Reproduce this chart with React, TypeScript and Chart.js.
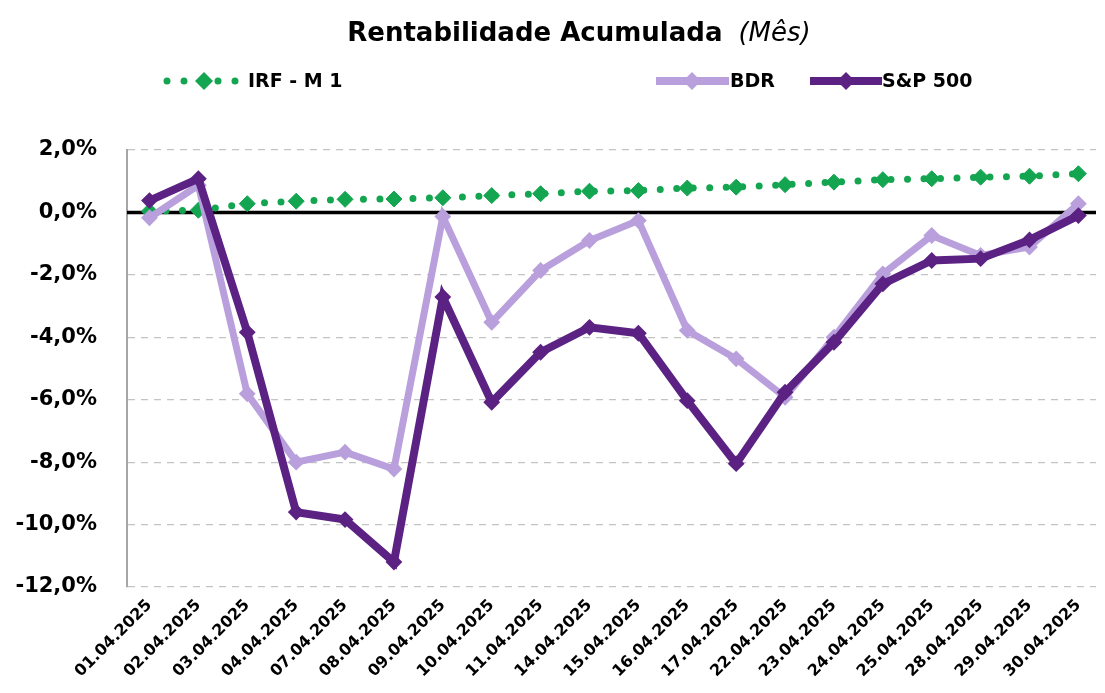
import React, { useEffect, useRef } from 'react';
import { Chart, registerables } from 'chart.js';

Chart.register(...registerables);

const titleMain = 'Rentabilidade Acumulada';
const titleSub = '(Mês)';

const dates = [
  '01.04.2025', '02.04.2025', '03.04.2025', '04.04.2025', '07.04.2025',
  '08.04.2025', '09.04.2025', '10.04.2025', '11.04.2025', '14.04.2025',
  '15.04.2025', '16.04.2025', '17.04.2025', '22.04.2025', '23.04.2025',
  '24.04.2025', '25.04.2025', '28.04.2025', '29.04.2025', '30.04.2025',
];

const seriesNames = ['IRF - M 1', 'BDR', 'S&P 500'];

const irfM1 = [0.04, 0.07, 0.28, 0.36, 0.42, 0.43, 0.47, 0.54, 0.6, 0.68, 0.7, 0.78, 0.81, 0.89, 0.97, 1.05, 1.08, 1.13, 1.16, 1.24];
const bdr = [-0.17, 0.87, -5.81, -8.0, -7.68, -8.22, -0.13, -3.52, -1.86, -0.9, -0.26, -3.78, -4.69, -5.92, -4.0, -1.97, -0.74, -1.38, -1.11, 0.28];
const sp500 = [0.38, 1.08, -3.84, -9.6, -9.84, -11.2, -2.71, -6.08, -4.48, -3.68, -3.87, -6.03, -8.05, -5.76, -4.16, -2.29, -1.54, -1.48, -0.88, -0.1];

const yMin = -12;
const yMax = 2;
const yStep = 2;

const FONT = '"DejaVu Sans", "Liberation Sans", sans-serif';
const GREEN = '#14A550';
const LIGHT = '#B9A0DC';
const DARK = '#5B2283';

function diamond(ctx: CanvasRenderingContext2D, cx: number, cy: number, r: number, color: string) {
  ctx.beginPath();
  ctx.moveTo(cx, cy - r);
  ctx.lineTo(cx + r, cy);
  ctx.lineTo(cx, cy + r);
  ctx.lineTo(cx - r, cy);
  ctx.closePath();
  ctx.fillStyle = color;
  ctx.fill();
}

const zeroLinePlugin = {
  id: 'zeroLine',
  beforeDatasetsDraw(chart: any) {
    const { ctx, chartArea, scales } = chart;
    const y = scales.y.getPixelForValue(0);
    ctx.save();
    ctx.strokeStyle = '#000';
    ctx.lineWidth = 3.5;
    ctx.beginPath();
    ctx.moveTo(chartArea.left, y);
    ctx.lineTo(chartArea.right, y);
    ctx.stroke();
    ctx.restore();
  },
};

const headerPlugin = {
  id: 'header',
  afterDraw(chart: any) {
    const ctx: CanvasRenderingContext2D = chart.ctx;
    ctx.save();
    ctx.textBaseline = 'alphabetic';
    ctx.textAlign = 'left';
    const bold = `bold 26px ${FONT}`;
    const ital = `italic 26px ${FONT}`;
    ctx.font = bold;
    const w1 = ctx.measureText(titleMain).width;
    ctx.font = ital;
    const w2 = ctx.measureText(titleSub).width;
    const gap = 16;
    const x0 = 579 - (w1 + gap + w2) / 2;
    ctx.fillStyle = '#000';
    ctx.font = bold;
    ctx.fillText(titleMain, x0, 41);
    ctx.font = ital;
    ctx.fillText(titleSub, x0 + w1 + gap, 41);

    const ly = 81;
    // IRF - M 1 sample
    ctx.strokeStyle = GREEN;
    ctx.lineWidth = 7;
    ctx.lineCap = 'round';
    ctx.setLineDash([0, 17]);
    ctx.beginPath();
    ctx.moveTo(167, ly);
    ctx.lineTo(240, ly);
    ctx.stroke();
    ctx.setLineDash([]);
    diamond(ctx, 204, ly, 9, GREEN);
    // BDR sample
    ctx.lineCap = 'butt';
    ctx.strokeStyle = LIGHT;
    ctx.lineWidth = 8;
    ctx.beginPath();
    ctx.moveTo(656, ly);
    ctx.lineTo(729, ly);
    ctx.stroke();
    diamond(ctx, 692, ly, 9, LIGHT);
    // S&P sample
    ctx.strokeStyle = DARK;
    ctx.beginPath();
    ctx.moveTo(810, ly);
    ctx.lineTo(882, ly);
    ctx.stroke();
    diamond(ctx, 846, ly, 9, DARK);

    ctx.fillStyle = '#000';
    ctx.font = `bold 19px ${FONT}`;
    ctx.textBaseline = 'middle';
    ctx.fillText(seriesNames[0], 248, ly + 1);
    ctx.fillText(seriesNames[1], 730, ly + 1);
    ctx.fillText(seriesNames[2], 882, ly + 1);
    ctx.restore();
  },
};

export default function App() {
  const ref = useRef<HTMLCanvasElement | null>(null);

  useEffect(() => {
    if (!ref.current) return;
    const toXY = (arr: number[]) => arr.map((v, i) => ({ x: i, y: v }));
    const chart = new Chart(ref.current, {
      type: 'line',
      data: {
        datasets: [
          {
            label: seriesNames[0],
            data: toXY(irfM1),
            borderColor: GREEN,
            backgroundColor: GREEN,
            borderWidth: 7,
            borderDash: [0, 16.5],
            borderCapStyle: 'round',
            pointStyle: 'rectRot',
            pointRadius: 8,
            pointBorderWidth: 1,
            pointBackgroundColor: GREEN,
            pointBorderColor: GREEN,
            order: 2,
          },
          {
            label: seriesNames[1],
            data: toXY(bdr),
            borderColor: LIGHT,
            backgroundColor: LIGHT,
            borderWidth: 7,
            pointStyle: 'rectRot',
            pointRadius: 7,
            pointBorderWidth: 2,
            pointBackgroundColor: LIGHT,
            pointBorderColor: LIGHT,
            order: 1,
          },
          {
            label: seriesNames[2],
            data: toXY(sp500),
            borderColor: DARK,
            backgroundColor: DARK,
            borderWidth: 8,
            pointStyle: 'rectRot',
            pointRadius: 7,
            pointBorderWidth: 2,
            pointBackgroundColor: DARK,
            pointBorderColor: DARK,
            order: 0,
          },
        ],
      },
      options: {
        animation: false,
        responsive: true,
        maintainAspectRatio: false,
        layout: { padding: { top: 150, right: 0, left: 0, bottom: 0 } },
        plugins: {
          legend: { display: false },
          title: { display: false },
          tooltip: { enabled: false },
        },
        scales: {
          x: {
            type: 'linear',
            min: -0.46,
            max: 19.36,
            afterBuildTicks: (scale: any) => {
              scale.ticks = dates.map((_, i) => ({ value: i }));
            },
            afterFit: (scale: any) => {
              scale.height = 106;
            },
            grid: { display: false, drawTicks: false },
            border: { display: false },
            ticks: {
              autoSkip: false,
              minRotation: 45,
              maxRotation: 45,
              padding: 9,
              color: '#000',
              font: { family: FONT, size: 16, weight: 'bold' },
              callback: (v: any) => dates[Math.round(Number(v))] ?? '',
            },
          },
          y: {
            min: yMin,
            max: yMax,
            afterFit: (scale: any) => {
              scale.width = 127;
            },
            grid: {
              color: (c: any) => (c.tick && c.tick.value === 0 ? 'rgba(0,0,0,0)' : '#C4C4C4'),
              lineWidth: 1.2,
              drawTicks: false,
            },
            border: { display: true, color: '#A6A6A6', width: 2, dash: [7, 6] },
            ticks: {
              stepSize: yStep,
              padding: 30,
              color: '#000',
              font: { family: FONT, size: 21, weight: 'bold' },
              callback: (v: any) => Number(v).toFixed(1).replace('.', ',') + '%',
            },
          },
        },
      },
      plugins: [zeroLinePlugin, headerPlugin],
    } as any);
    return () => chart.destroy();
  }, []);

  return (
    <div style={{ position: 'fixed', left: 0, top: 0, width: 1105, height: 693, background: '#fff' }}>
      <canvas ref={ref} />
    </div>
  );
}
